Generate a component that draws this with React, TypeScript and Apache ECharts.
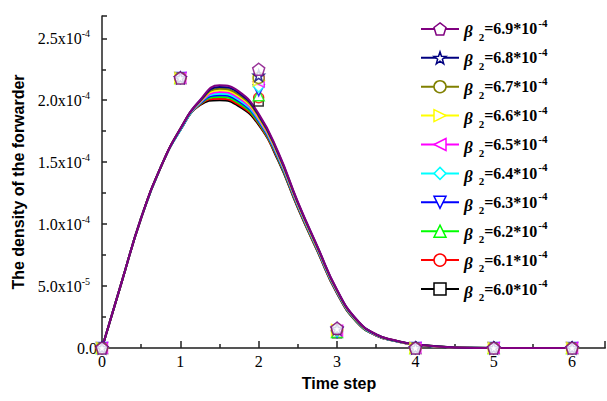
import React, { useEffect, useRef } from 'react';
import * as echarts from 'echarts';

// x positions of the smooth density curves (time step)
const xCurve = [0, 0.25, 0.5, 0.75, 1, 1.25, 1.5, 1.75, 2, 2.25, 2.5, 2.75, 3, 3.25, 3.5, 3.75, 4, 4.5, 5, 5.5, 6];
// x positions of the discrete markers
const xPoints = [0, 1, 2, 3, 4, 5, 6];

// curve values, in units of 1e-4
const c60 = [0, 0.53, 1.05, 1.46, 1.76, 1.960, 2.000, 1.950, 1.80, 1.510, 1.130, 0.780, 0.440, 0.210, 0.100, 0.055, 0.025, 0.004, 0, 0, 0];
const c61 = [0, 0.53, 1.05, 1.46, 1.76, 1.964, 2.013, 1.963, 1.81, 1.518, 1.136, 0.784, 0.443, 0.212, 0.101, 0.056, 0.026, 0.004, 0, 0, 0];
const c62 = [0, 0.53, 1.05, 1.46, 1.76, 1.969, 2.027, 1.977, 1.82, 1.526, 1.141, 0.789, 0.447, 0.214, 0.102, 0.056, 0.026, 0.004, 0, 0, 0];
const c63 = [0, 0.53, 1.05, 1.46, 1.76, 1.973, 2.040, 1.990, 1.83, 1.533, 1.147, 0.793, 0.450, 0.217, 0.103, 0.057, 0.027, 0.004, 0, 0, 0];
const c64 = [0, 0.53, 1.05, 1.46, 1.76, 1.978, 2.053, 2.003, 1.84, 1.541, 1.152, 0.798, 0.453, 0.219, 0.104, 0.057, 0.027, 0.005, 0, 0, 0];
const c65 = [0, 0.53, 1.05, 1.46, 1.77, 1.982, 2.067, 2.017, 1.85, 1.549, 1.158, 0.802, 0.457, 0.221, 0.106, 0.058, 0.028, 0.005, 0, 0, 0];
const c66 = [0, 0.53, 1.05, 1.46, 1.77, 1.987, 2.080, 2.030, 1.86, 1.557, 1.163, 0.807, 0.460, 0.223, 0.107, 0.058, 0.028, 0.005, 0, 0, 0];
const c67 = [0, 0.53, 1.05, 1.46, 1.77, 1.991, 2.093, 2.043, 1.87, 1.564, 1.169, 0.811, 0.463, 0.226, 0.108, 0.059, 0.029, 0.005, 0, 0, 0];
const c68 = [0, 0.53, 1.05, 1.46, 1.77, 1.996, 2.107, 2.057, 1.88, 1.572, 1.174, 0.816, 0.467, 0.228, 0.109, 0.059, 0.029, 0.005, 0, 0, 0];
const c69 = [0, 0.53, 1.05, 1.46, 1.77, 2.000, 2.120, 2.070, 1.89, 1.580, 1.180, 0.820, 0.470, 0.230, 0.110, 0.060, 0.030, 0.005, 0, 0, 0];

// marker values at integer time steps, in units of 1e-4
const p60 = [0, 2.18, 1.99, 0.120, 0, 0, 0];
const p61 = [0, 2.18, 2.02, 0.125, 0, 0, 0];
const p62 = [0, 2.18, 2.04, 0.130, 0, 0, 0];
const p63 = [0, 2.18, 2.08, 0.130, 0, 0, 0];
const p64 = [0, 2.18, 2.11, 0.135, 0, 0, 0];
const p65 = [0, 2.18, 2.15, 0.140, 0, 0, 0];
const p66 = [0, 2.18, 2.16, 0.145, 0, 0, 0];
const p67 = [0, 2.18, 2.18, 0.150, 0, 0, 0];
const p68 = [0, 2.18, 2.20, 0.155, 0, 0, 0];
const p69 = [0, 2.18, 2.25, 0.160, 0, 0, 0];

const betaLabels = ['6.0', '6.1', '6.2', '6.3', '6.4', '6.5', '6.6', '6.7', '6.8', '6.9'];
const curves = [c60, c61, c62, c63, c64, c65, c66, c67, c68, c69];
const points = [p60, p61, p62, p63, p64, p65, p66, p67, p68, p69];

const colors = ['#000000', '#ff0000', '#00ff00', '#0000ff', '#00ffff', '#ff00ff', '#ffff00', '#808000', '#000080', '#800080'];
const STAR = 'path://M0,-10 L2.35,-3.24 L9.51,-3.09 L3.8,1.24 L5.88,8.09 L0,4 L-5.88,8.09 L-3.8,1.24 L-9.51,-3.09 L-2.35,-3.24 Z';
const PENTAGON = 'path://M0,-10 L9.51,-3.09 L5.88,8.09 L-5.88,8.09 L-9.51,-3.09 Z';
const TRI_DOWN = 'path://M0,0 L10,0 L5,10 Z';
const TRI_LEFT = 'path://M10,0 L0,5 L10,10 Z';
const TRI_RIGHT = 'path://M0,0 L10,5 L0,10 Z';
const symbols = ['rect', 'circle', 'triangle', TRI_DOWN, 'diamond', TRI_LEFT, TRI_RIGHT, 'circle', STAR, PENTAGON];
const symbolSizes = [9, 10, 11, 11, 11, 11, 11, 11, 11, 12];

const yTickValues = [0, 0.5, 1.0, 1.5, 2.0, 2.5];
const yTickMantissa = ['0.0', '5.0', '1.0', '1.5', '2.0', '2.5'];
const yTickExponent = ['', '-5', '-4', '-4', '-4', '-4'];
const xTickLabels = ['0', '1', '2', '3', '4', '5', '6'];

const SERIF = 'Liberation Serif';
const SANS = 'Liberation Sans';

export default function App() {
  const ref = useRef<HTMLDivElement>(null);
  useEffect(() => {
    if (!ref.current) return;
    const chart = echarts.init(ref.current, undefined, { renderer: 'svg' });

    const lineSeries = betaLabels.map((b, k) => ({
      name: b,
      type: 'line',
      data: xCurve.map((x, i) => [x, curves[k][i]]),
      smooth: true,
      showSymbol: false,
      symbol: symbols[k],
      symbolSize: symbolSizes[k],
      lineStyle: { color: colors[k], width: 2 },
      itemStyle: { color: '#fff', borderColor: colors[k], borderWidth: 1.5 },
      z: 2,
    }));
    const pointSeries = betaLabels.map((b, k) => ({
      name: 'p' + b,
      type: 'scatter',
      data: xPoints.map((x, i) => [x, points[k][i]]),
      symbol: symbols[k],
      symbolSize: symbolSizes[k],
      itemStyle: { color: '#fff', borderColor: colors[k], borderWidth: 1.5 },
      clip: false,
      z: 3,
    }));

    const legendData = betaLabels
      .map((b, k) => ({
        name: b,
        itemStyle: { color: '#fff', borderColor: colors[k], borderWidth: 1.5 },
        lineStyle: { color: colors[k], width: 2 },
      }))
      .reverse();

    chart.setOption({
      animation: false,
      backgroundColor: '#fff',
      grid: { left: 102, top: 16, right: 2, bottom: 53, containLabel: false },
      legend: {
        orient: 'vertical',
        left: 420,
        top: 15.4,
        padding: 0,
        itemWidth: 38,
        itemHeight: 15,
        itemGap: 1.9,
        data: legendData,
        formatter: (name: string) => `{b|β}{s|2}{t|=${name}*10}{p|-4}`,
        textStyle: {
          color: '#000',
          fontFamily: SERIF,
          fontWeight: 'bold',
          fontSize: 16,
          rich: {
            b: { fontFamily: SERIF, fontStyle: 'italic', fontWeight: 'bold', fontSize: 17, lineHeight: 20, padding: [6, 0, 0, 0], color: '#000' },
            s: { fontFamily: SERIF, fontWeight: 'bold', fontSize: 11, lineHeight: 20, padding: [16, 0, 0, 6], color: '#000' },
            t: { fontFamily: SERIF, fontWeight: 'bold', fontSize: 16, lineHeight: 20, color: '#000' },
            p: { fontFamily: SERIF, fontWeight: 'bold', fontSize: 11, lineHeight: 20, padding: [0, 0, 12, 1], color: '#000' },
          },
        },
      },
      xAxis: {
        type: 'value',
        min: 0,
        max: 6.42,
        interval: 1,
        name: 'Time step',
        nameLocation: 'middle',
        nameGap: 27,
        nameTextStyle: { fontFamily: SANS, fontWeight: 'bold', fontSize: 16, color: '#000', padding: [0, 29, 0, 0] },
        axisLine: { show: true, onZero: false, lineStyle: { color: '#555', width: 2 } },
        axisTick: { show: true, inside: true, length: 7, lineStyle: { color: '#222', width: 1.5 } },
        minorTick: { show: true, splitNumber: 2, length: 4, lineStyle: { color: '#222', width: 1.5 } },
        splitLine: { show: false },
        axisLabel: {
          margin: 5,
          showMaxLabel: false,
          fontFamily: SERIF,
          fontSize: 16,
          color: '#000',
          formatter: (v: number) => {
            const i = xPoints.indexOf(Math.round(v * 1000) / 1000);
            return i >= 0 ? xTickLabels[i] : '';
          },
        },
      },
      yAxis: {
        type: 'value',
        min: 0,
        max: 2.68,
        interval: 0.5,
        name: 'The density of the forwarder',
        nameLocation: 'middle',
        nameGap: 72,
        nameTextStyle: { fontFamily: SANS, fontWeight: 'bold', fontSize: 16, color: '#000' },
        axisLine: { show: true, onZero: false, lineStyle: { color: '#222', width: 1.5 } },
        axisTick: { show: true, inside: true, length: 5, lineStyle: { color: '#222', width: 1.5 } },
        minorTick: { show: true, splitNumber: 2, length: 4, lineStyle: { color: '#222', width: 1.5 } },
        splitLine: { show: false },
        axisLabel: {
          margin: 5,
          showMaxLabel: false,
          color: '#000',
          formatter: (v: number) => {
            const i = yTickValues.findIndex((t) => Math.abs(t - v) < 1e-9);
            if (i < 0) return '';
            if (!yTickExponent[i]) return `{z|${yTickMantissa[i]}}`;
            return `{m|${yTickMantissa[i]}x10}{e|${yTickExponent[i]}}`;
          },
          rich: {
            z: { fontFamily: SERIF, fontSize: 16, lineHeight: 18, color: '#000' },
            m: { fontFamily: SERIF, fontSize: 16, lineHeight: 18, color: '#000' },
            e: { fontFamily: SERIF, fontSize: 10, lineHeight: 18, padding: [0, 7, 10, 0], color: '#000' },
          },
        },
      },
      series: [...lineSeries, ...pointSeries],
    });
    return () => chart.dispose();
  }, []);
  return <div ref={ref} style={{ position: 'absolute', left: 0, top: 0, width: 607, height: 401 }} />;
}
